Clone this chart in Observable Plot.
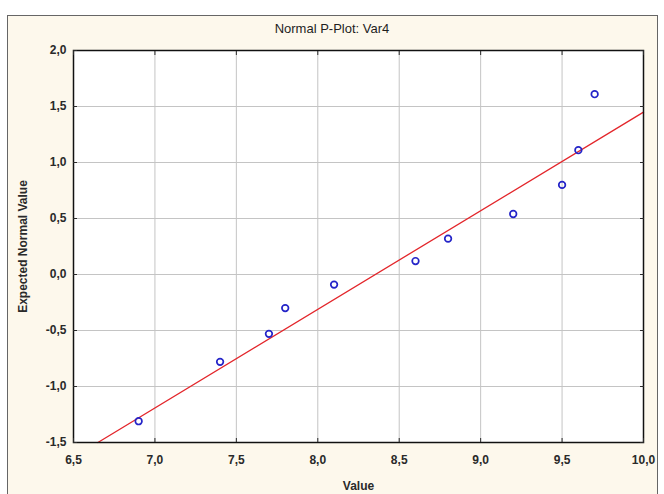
<!DOCTYPE html>
<html><head><meta charset="utf-8">
<script src="https://cdn.jsdelivr.net/npm/d3@7"></script>
<script src="https://cdn.jsdelivr.net/npm/@observablehq/plot@0.6"></script>
<style>
body{margin:0;background:#fff;width:664px;height:494px;overflow:hidden;position:relative;font-family:"Liberation Sans",Arial,sans-serif}
#panel{position:absolute;left:7px;top:15px;width:649px;height:490px;border:1px solid #666;background:#fdf8ec;}
#title{position:absolute;left:0;top:21px;width:664px;text-align:center;font-size:13px;color:#1e1e1e}
#chart{position:absolute;left:0;top:0}
</style></head>
<body><div id="panel"></div><div id="title">Normal P-Plot: Var4</div><div id="chart"></div>
<script>
const values = [6.9, 7.4, 7.7, 7.8, 8.1, 8.6, 8.8, 9.2, 9.5, 9.6, 9.7];
const expected = [-1.31, -0.78, -0.53, -0.30, -0.09, 0.12, 0.32, 0.54, 0.80, 1.11, 1.61];
const fitX = [6.65, 10.0];
const fitY = [-1.5, 1.45];
const xTicks = [6.5, 7.0, 7.5, 8.0, 8.5, 9.0, 9.5, 10.0];
const yTicks = [-1.5, -1.0, -0.5, 0.0, 0.5, 1.0, 1.5, 2.0];

const points = values.map((v, i) => ({x: v, y: expected[i]}));
const fit = fitX.map((v, i) => ({x: v, y: fitY[i]}));
const fmt = d => d.toFixed(1).replace(".", ",");

const chart = Plot.plot({
  width: 664,
  height: 494,
  marginLeft: 73,
  marginRight: 21,
  marginTop: 50,
  marginBottom: 52,
  style: {background: "transparent", fontFamily: "'Liberation Sans', Arial, sans-serif", fontSize: "12px", fontWeight: "bold", color: "#2a2a2a"},
  x: {domain: [6.5, 10], axis: null},
  y: {domain: [-1.5, 2], axis: null},
  marks: [
    Plot.frame({fill: "white"}),
    Plot.gridX(xTicks, {stroke: "#c4c4c4", strokeOpacity: 1, strokeWidth: 1}),
    Plot.gridY(yTicks, {stroke: "#c4c4c4", strokeOpacity: 1, strokeWidth: 1}),
    Plot.line(fit, {x: "x", y: "y", stroke: "#e3262b", strokeWidth: 1.3}),
    Plot.dot(points, {x: "x", y: "y", r: 3.3, stroke: "#2424c8", strokeWidth: 1.7, fill: "none"}),
    Plot.frame({stroke: "#111", strokeWidth: 1.5}),
    Plot.axisX(xTicks, {anchor: "bottom", tickSize: -4, tickPadding: 17, tickFormat: fmt, label: "Value", labelAnchor: "center", labelOffset: 47, labelArrow: "none"}),
    Plot.axisX(xTicks, {anchor: "top", tickSize: -4, tickFormat: () => "", label: null}),
    Plot.axisY(yTicks, {anchor: "left", tickSize: -4, tickPadding: 11, tickFormat: fmt, label: "Expected Normal Value", labelAnchor: "center", labelOffset: 55, labelArrow: "none"}),
    Plot.axisY(yTicks, {anchor: "right", tickSize: -4, tickFormat: () => "", label: null})
  ]
});
document.getElementById("chart").append(chart);
</script>
</body></html>
